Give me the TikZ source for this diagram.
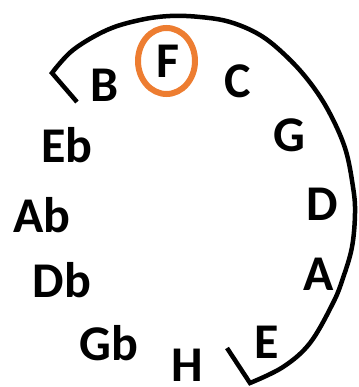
\documentclass[tikz,border=0pt]{standalone}
\usepackage{fontspec}
\setmainfont{Carlito}
\definecolor{ringorange}{RGB}{237,125,49}
\tikzset{
	tone/.style={anchor=base, inner sep=0pt, font=\fontsize{50}{60}\selectfont\bfseries},
}
\begin{document}
\begin{tikzpicture}[x=1pt, y=-1pt, line width=4.5pt]
		
		\useasboundingbox (0,0) rectangle (358,387);
		
		\coordinate (L) at (77,102);
		\coordinate (Lc) at (52,73);
		\coordinate (Rc) at (250,383);
		\coordinate (R) at (227,348);
		
		% Main arc
		\draw[line join=miter] (L) -- (Lc) -- plot[smooth, tension=0.6] coordinates {(52,73) (73,50) (107,30) (140,20) (170,16) (200,17) (230,22) (260,35) (285,55) (308,80) (328,110) (345,148) (353,187) (355,213) (352,247) (343,278) (333,303) (310,343) (283,367) (250,383)} -- (R);
		
		% Labels
		\node[tone] (B) at (105,102) {B};
		\node[tone] (F) at (168,78) {F};
		\node[tone] (C) at (238,98) {C};
		\node[tone] (G) at (289,152) {G};
		\node[tone] (D) at (322,220) {D};
		\node[tone] (A) at (319,290) {A};
		\node[tone] (E) at (267,358) {E};
		\node[tone] (H) at (187,381) {H};
		\node[tone] (Gb) at (109,360) {Gb};
		\node[tone] (Db) at (62,297) {Db};
		\node[tone] (Ab) at (42,232) {Ab};
		\node[tone] (Eb) at (67,163) {Eb};
		
		% Ring round F
		\draw[ringorange, line width=6pt] (166.5,61) ellipse (28.5 and 33);
		
	\end{tikzpicture}
\end{document}
